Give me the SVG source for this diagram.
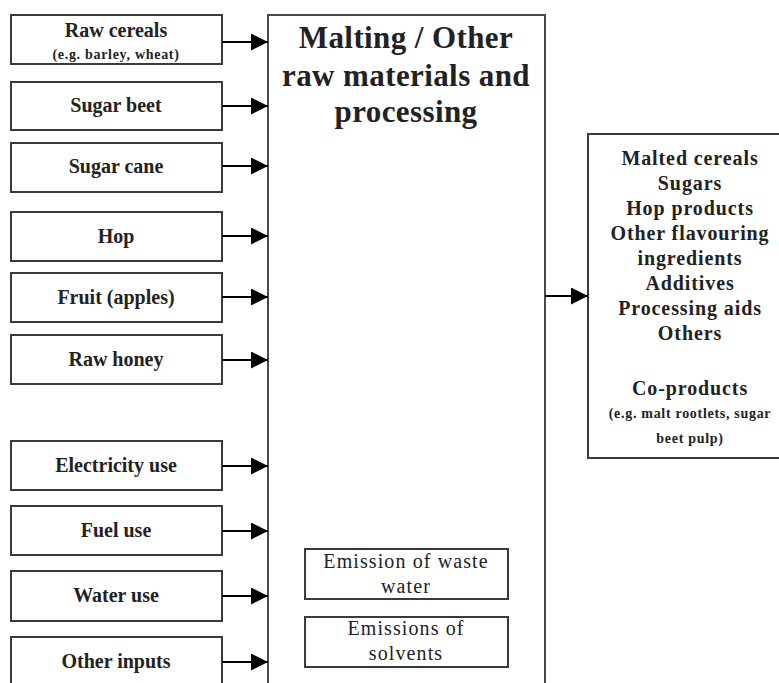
<svg xmlns="http://www.w3.org/2000/svg" width="779" height="683" viewBox="0 0 779 683">
  <style>
    .box { fill: #ffffff; stroke: #3a3a3a; stroke-width: 2; }
    .big { fill: #ffffff; stroke: #4a4a4a; stroke-width: 2; }
    .lbl { font-family: "Liberation Serif", "Times New Roman", serif; font-weight: bold; font-size: 20px; fill: #222222; text-anchor: middle; }
    .sub { font-family: "Liberation Serif", "Times New Roman", serif; font-weight: bold; font-size: 14px; fill: #222222; text-anchor: middle; letter-spacing: 0.7px; }
    .title { font-family: "Liberation Serif", "Times New Roman", serif; font-weight: bold; font-size: 31px; fill: #222222; text-anchor: middle; letter-spacing: 0.4px; }
    .out { font-family: "Liberation Serif", "Times New Roman", serif; font-weight: bold; font-size: 20px; fill: #222222; text-anchor: middle; letter-spacing: 0.9px; }
    .em { font-family: "Liberation Serif", "Times New Roman", serif; font-size: 20px; fill: #222222; text-anchor: middle; letter-spacing: 1.1px; }
    .conn { stroke: #000000; stroke-width: 2.2; fill: none; }
  </style>
  <defs>
    <marker id="arrowhead" viewBox="0 0 10 10" refX="10" refY="5" markerWidth="18" markerHeight="17" markerUnits="userSpaceOnUse" orient="auto">
      <path d="M0,0 L10,5 L0,10 Z" fill="#000000"/>
    </marker>
  </defs>

  <rect width="779" height="683" fill="#ffffff"/>

  <!-- central process -->
  <g id="process">
    <rect class="big" x="268" y="15" width="277" height="700"/>
    <text class="title" x="406" y="48">Malting / Other</text>
    <text class="title" x="406" y="86">raw materials and</text>
    <text class="title" x="406" y="122">processing</text>
  </g>

  <!-- inputs -->
  <g id="raw-cereals">
    <rect class="box" x="11" y="15" width="211" height="49"/>
    <text class="lbl" x="116" y="37">Raw cereals</text>
    <text class="sub" x="116" y="59">(e.g. barley, wheat)</text>
  </g>
  <g id="sugar-beet">
    <rect class="box" x="11" y="82" width="211" height="48"/>
    <text class="lbl" x="116" y="112">Sugar beet</text>
  </g>
  <g id="sugar-cane">
    <rect class="box" x="11" y="143" width="211" height="49"/>
    <text class="lbl" x="116" y="173">Sugar cane</text>
  </g>
  <g id="hop">
    <rect class="box" x="11" y="212" width="211" height="49"/>
    <text class="lbl" x="116" y="243">Hop</text>
  </g>
  <g id="fruit">
    <rect class="box" x="11" y="273" width="211" height="49"/>
    <text class="lbl" x="116" y="304">Fruit (apples)</text>
  </g>
  <g id="raw-honey">
    <rect class="box" x="11" y="335" width="211" height="49"/>
    <text class="lbl" x="116" y="366">Raw honey</text>
  </g>
  <g id="electricity">
    <rect class="box" x="11" y="441" width="211" height="49"/>
    <text class="lbl" x="116" y="472">Electricity use</text>
  </g>
  <g id="fuel">
    <rect class="box" x="11" y="506" width="211" height="49"/>
    <text class="lbl" x="116" y="537">Fuel use</text>
  </g>
  <g id="water">
    <rect class="box" x="11" y="571" width="211" height="50"/>
    <text class="lbl" x="116" y="602">Water use</text>
  </g>
  <g id="other-inputs">
    <rect class="box" x="11" y="637" width="211" height="70"/>
    <text class="lbl" x="116" y="668">Other inputs</text>
  </g>

  <!-- emissions inside the process box -->
  <g id="waste-water">
    <rect class="box" x="305" y="549" width="203" height="50"/>
    <text class="em" x="406" y="568">Emission of waste</text>
    <text class="em" x="406" y="593">water</text>
  </g>
  <g id="solvents">
    <rect class="box" x="305" y="617" width="203" height="50"/>
    <text class="em" x="406" y="635">Emissions of</text>
    <text class="em" x="406" y="660">solvents</text>
  </g>

  <!-- outputs -->
  <g id="outputs">
    <rect class="box" x="588" y="134" width="200" height="324"/>
    <text class="out" x="690" y="165">Malted cereals</text>
    <text class="out" x="690" y="190">Sugars</text>
    <text class="out" x="690" y="215">Hop products</text>
    <text class="out" x="690" y="240">Other flavouring</text>
    <text class="out" x="690" y="265">ingredients</text>
    <text class="out" x="690" y="290">Additives</text>
    <text class="out" x="690" y="315">Processing aids</text>
    <text class="out" x="690" y="340">Others</text>
    <text class="out" x="690" y="395">Co-products</text>
    <text class="sub" x="690" y="418">(e.g. malt rootlets, sugar</text>
    <text class="sub" x="690" y="443">beet pulp)</text>
  </g>

  <!-- connectors -->
  <g id="connectors">
    <line class="conn" x1="222" y1="42" x2="268" y2="42" marker-end="url(#arrowhead)"/>
    <line class="conn" x1="222" y1="106" x2="268" y2="106" marker-end="url(#arrowhead)"/>
    <line class="conn" x1="222" y1="166" x2="268" y2="166" marker-end="url(#arrowhead)"/>
    <line class="conn" x1="222" y1="236" x2="268" y2="236" marker-end="url(#arrowhead)"/>
    <line class="conn" x1="222" y1="297" x2="268" y2="297" marker-end="url(#arrowhead)"/>
    <line class="conn" x1="222" y1="360" x2="268" y2="360" marker-end="url(#arrowhead)"/>
    <line class="conn" x1="222" y1="466" x2="268" y2="466" marker-end="url(#arrowhead)"/>
    <line class="conn" x1="222" y1="531" x2="268" y2="531" marker-end="url(#arrowhead)"/>
    <line class="conn" x1="222" y1="596" x2="268" y2="596" marker-end="url(#arrowhead)"/>
    <line class="conn" x1="222" y1="662" x2="268" y2="662" marker-end="url(#arrowhead)"/>
    <line class="conn" x1="545" y1="296" x2="588" y2="296" marker-end="url(#arrowhead)"/>
  </g>
</svg>
